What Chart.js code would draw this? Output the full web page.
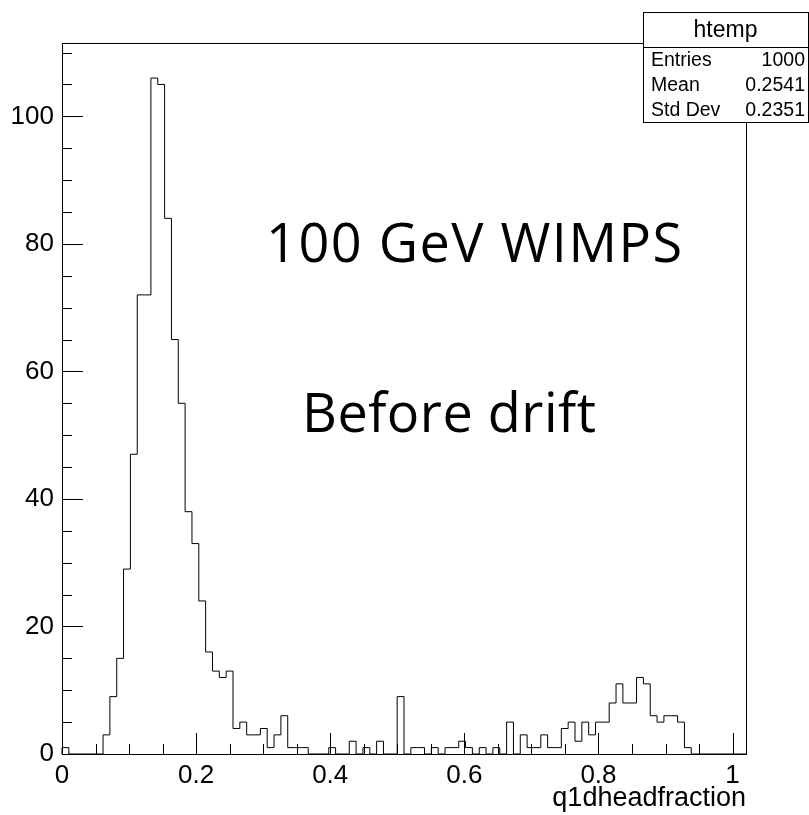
<!DOCTYPE html>
<html>
<head>
<meta charset="utf-8">
<script src="https://cdn.jsdelivr.net/npm/chart.js@4.4.0/dist/chart.umd.min.js"></script>
<style>
  html, body { margin: 0; padding: 0; background: #fff; }
  #wrap { width: 809px; height: 815px; }
</style>
</head>
<body>
<div id="wrap"><canvas id="chart" width="809" height="815"></canvas></div>
<script>
// histogram of q1dheadfraction, 100 bins from 0 to 1.02
const xMin = 0;
const xMax = 1.02;
const binCount = 100;
const counts = [
    1, 0, 0, 0, 0, 0, 3, 9, 15, 29,
    47, 72, 72, 106, 105, 84, 65, 55, 38, 33,
    24, 16, 13, 12, 13, 4, 5, 3, 3, 4,
    1, 3, 6, 1, 1, 1, 0, 0, 0, 1,
    0, 0, 2, 0, 1, 0, 2, 0, 0, 9,
    0, 1, 1, 0, 1, 0, 1, 1, 2, 1,
    0, 1, 0, 1, 0, 5, 0, 3, 1, 1,
    3, 1, 1, 4, 5, 2, 5, 3, 5, 5,
    8, 11, 8, 8, 12, 11, 6, 5, 6, 6,
    5, 1, 0, 0, 0, 0, 0, 0, 0, 0
];
const xTickValues = [0, 0.2, 0.4, 0.6, 0.8, 1];
const xTickLabels = ['0', '0.2', '0.4', '0.6', '0.8', '1'];
const yTickValues = [0, 20, 40, 60, 80, 100];
const yTickLabels = ['0', '20', '40', '60', '80', '100'];
const yMax = 111.5;

const statTitle = 'htemp';
const statNames = ['Entries', 'Mean', 'Std Dev'];
const statValues = ['1000', '0.2541', '0.2351'];
const noteLines = ['100 GeV WIMPS', 'Before drift'];

// step outline: start on the baseline, one point per bin low edge, drop back at the end
const binWidth = (xMax - xMin) / binCount;
const histPoints = [{ x: xMin, y: 0 }];
counts.forEach((c, i) => histPoints.push({ x: xMin + i * binWidth, y: c }));
histPoints.push({ x: xMax, y: 0 });

const axisFont = { family: "'Liberation Sans', Arial, sans-serif", size: 26 };

// ROOT style frame, inward ticks, stats box and the two text notes
const rootDecor = {
    id: 'rootDecor',
    afterDraw(chart) {
        const { ctx, chartArea: a, scales: { x, y } } = chart;
        ctx.save();
        ctx.strokeStyle = '#000';
        ctx.lineWidth = 1;
        ctx.strokeRect(a.left + 0.5, a.top + 0.5, a.right - a.left, a.bottom - a.top);

        ctx.beginPath();
        for (let i = 0; i <= 20; i++) {
            const px = Math.round(x.getPixelForValue(i * 0.05)) + 0.5;
            const len = i % 4 === 0 ? 21 : 10;
            ctx.moveTo(px, a.bottom);
            ctx.lineTo(px, a.bottom - len);
        }
        for (let v = 0; v <= 110; v += 5) {
            const py = Math.round(y.getPixelForValue(v)) + 0.5;
            const len = v % 20 === 0 ? 21 : 10;
            ctx.moveTo(a.left, py);
            ctx.lineTo(a.left + len, py);
        }
        ctx.stroke();

        // stats box
        const bx = 643, by = 12, bw = 165, titleH = 35, rowH = 25;
        ctx.fillStyle = '#fff';
        ctx.fillRect(bx, by, bw, titleH + rowH * statNames.length);
        ctx.strokeRect(bx + 0.5, by + 0.5, bw, titleH + rowH * statNames.length);
        ctx.beginPath();
        ctx.moveTo(bx, by + titleH + 0.5);
        ctx.lineTo(bx + bw, by + titleH + 0.5);
        ctx.stroke();
        ctx.fillStyle = '#000';
        ctx.textBaseline = 'middle';
        ctx.textAlign = 'center';
        ctx.font = "23px 'Liberation Sans', Arial, sans-serif";
        ctx.fillText(statTitle, bx + bw / 2, by + titleH / 2 + 1);
        ctx.font = "19.5px 'Liberation Sans', Arial, sans-serif";
        statNames.forEach((n, i) => {
            const ty = by + titleH + rowH * i + rowH / 2 + 1;
            ctx.textAlign = 'left';
            ctx.fillText(n, bx + 8, ty);
            ctx.textAlign = 'right';
            ctx.fillText(statValues[i], bx + bw - 3, ty);
        });

        // free text
        ctx.textAlign = 'left';
        ctx.textBaseline = 'alphabetic';
        ctx.font = "54px 'Open Sans', 'Noto Sans', sans-serif";
        ctx.letterSpacing = '1.5px';
        ctx.fillText(noteLines[0], 266, 262);
        ctx.letterSpacing = '0.5px';
        ctx.fillText(noteLines[1], 302, 432);
        ctx.restore();
    }
};

new Chart(document.getElementById('chart'), {
    type: 'line',
    data: {
        datasets: [{
            data: histPoints,
            stepped: 'before',
            borderColor: '#000',
            borderWidth: 1,
            pointRadius: 0,
            fill: false,
            clip: false
        }]
    },
    options: {
        responsive: false,
        animation: false,
        devicePixelRatio: 1,
        layout: { padding: { left: 0, top: 43, right: 63, bottom: 0 } },
        plugins: { legend: { display: false }, tooltip: { enabled: false } },
        scales: {
            x: {
                type: 'linear',
                min: xMin,
                max: xMax,
                afterFit(s) { s.height = 61; },
                afterBuildTicks(s) { s.ticks = xTickValues.map(v => ({ value: v })); },
                grid: { display: false, drawTicks: false },
                border: { display: false },
                ticks: {
                    color: '#000',
                    font: axisFont,
                    padding: 6,
                    maxRotation: 0,
                    autoSkip: false,
                    callback: (v, i) => xTickLabels[i]
                },
                title: {
                    display: true,
                    text: 'q1dheadfraction',
                    align: 'end',
                    color: '#000',
                    font: { family: "'Liberation Sans', Arial, sans-serif", size: 27 },
                    padding: { top: 0, bottom: 0 }
                }
            },
            y: {
                type: 'linear',
                min: 0,
                max: yMax,
                afterFit(s) { s.width = 62; },
                afterBuildTicks(s) { s.ticks = yTickValues.map(v => ({ value: v })); },
                grid: { display: false, drawTicks: false },
                border: { display: false },
                ticks: {
                    color: '#000',
                    font: axisFont,
                    padding: 8,
                    autoSkip: false,
                    callback: (v, i) => yTickLabels[i]
                }
            }
        }
    },
    plugins: [rootDecor]
});
</script>
</body>
</html>
